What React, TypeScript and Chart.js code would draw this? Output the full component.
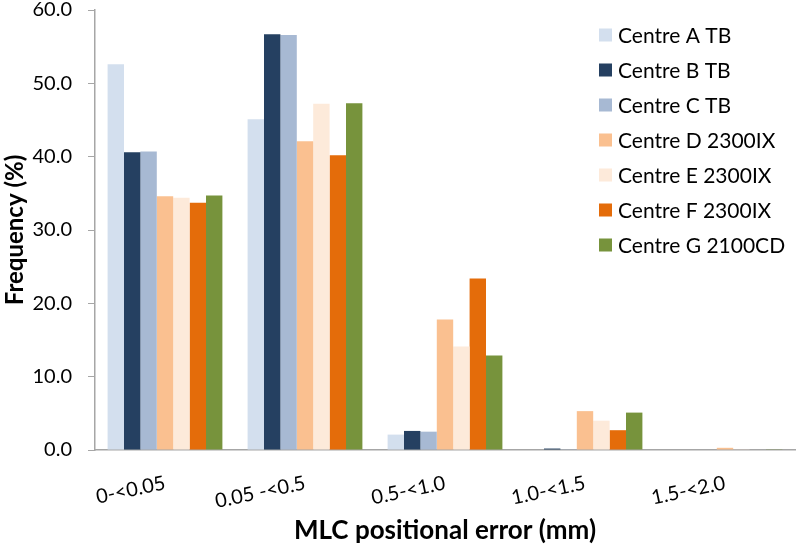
import React, { useEffect, useRef } from "react";
import { Chart, registerables } from "chart.js";

Chart.register(...registerables);

const categories = ["0-<0.05", "0.05 -<0.5", "0.5-<1.0", "1.0-<1.5", "1.5-<2.0"];
const seriesNames = [
  "Centre A TB",
  "Centre B TB",
  "Centre C TB",
  "Centre D 2300IX",
  "Centre E 2300IX",
  "Centre F 2300IX",
  "Centre G 2100CD",
];
const centreA = [52.6, 45.1, 2.1, 0.0, 0.0];
const centreB = [40.6, 56.7, 2.6, 0.2, 0.0];
const centreC = [40.7, 56.6, 2.5, 0.1, 0.0];
const centreD = [34.6, 42.1, 17.8, 5.3, 0.3];
const centreE = [34.4, 47.2, 14.1, 4.0, 0.1];
const centreF = [33.7, 40.2, 23.4, 2.7, 0.0];
const centreG = [34.7, 47.3, 12.9, 5.1, 0.1];
const seriesValues = [centreA, centreB, centreC, centreD, centreE, centreF, centreG];
const colors = ["#D3DFEE", "#254061", "#A7B9D3", "#FAC090", "#FDEADA", "#E46C0A", "#77933C"];

const FONT = "Lato, 'Open Sans', sans-serif";

const legendPlugin = {
  id: "insideLegend",
  afterDraw(chart: any) {
    const ctx = chart.ctx;
    ctx.save();
    ctx.font = `21px ${FONT}`;
    ctx.textBaseline = "middle";
    ctx.textAlign = "left";
    seriesNames.forEach((name, i) => {
      const y = 35 + i * 35;
      ctx.fillStyle = colors[i];
      ctx.fillRect(599, y - 6.5, 13, 13);
      ctx.fillStyle = "#000";
      ctx.fillText(name, 618, y + 1);
    });
    ctx.restore();
  },
};

export default function App() {
  const ref = useRef<HTMLCanvasElement>(null);
  useEffect(() => {
    document.body.style.margin = "0";
    const chart = new Chart(ref.current!, {
      type: "bar",
      data: {
        labels: categories,
        datasets: seriesNames.map((n, i) => ({
          label: n,
          data: seriesValues[i],
          backgroundColor: colors[i],
          borderWidth: 0,
          barPercentage: 1,
          categoryPercentage: 0.82,
        })),
      },
      options: {
        responsive: false,
        animation: false,
        layout: { padding: { top: 10, right: 2, left: 0, bottom: 0 } },
        plugins: { legend: { display: false }, tooltip: { enabled: false } },
        scales: {
          x: {
            grid: { display: false, drawTicks: false },
            border: { display: true, color: "#A6A6A6", width: 1.5 },
            afterFit: (s: any) => {
              s.height = 97;
              s.paddingLeft = 0;
              s.paddingRight = 0;
            },
            ticks: {
              minRotation: 12,
              maxRotation: 12,
              color: "#000",
              padding: 21,
              font: { family: FONT, size: 20 },
            },
            title: {
              display: true,
              text: "MLC positional error (mm)",
              color: "#000",
              font: { family: FONT, size: 26, weight: "bold" },
              padding: { top: 0, bottom: 1 },
            },
          },
          y: {
            min: 0,
            max: 60,
            afterFit: (s: any) => {
              s.width = 95;
              s.paddingTop = 0;
              s.paddingBottom = 0;
            },
            grid: { drawOnChartArea: false, drawTicks: true, tickLength: 7, color: "#A6A6A6" },
            border: { display: true, color: "#A6A6A6", width: 1.5 },
            ticks: {
              stepSize: 10,
              color: "#000",
              padding: 16,
              font: { family: FONT, size: 20 },
              callback: (v: any) => Number(v).toFixed(1),
            },
            title: {
              display: true,
              text: "Frequency (%)",
              color: "#000",
              font: { family: FONT, size: 24, weight: "bold" },
              padding: { top: 1, bottom: 0 },
            },
          },
        },
      },
      plugins: [legendPlugin],
    });
    return () => chart.destroy();
  }, []);
  return (
    <div style={{ width: 797, height: 547, background: "#fff" }}>
      <canvas ref={ref} width={797} height={547} />
    </div>
  );
}
